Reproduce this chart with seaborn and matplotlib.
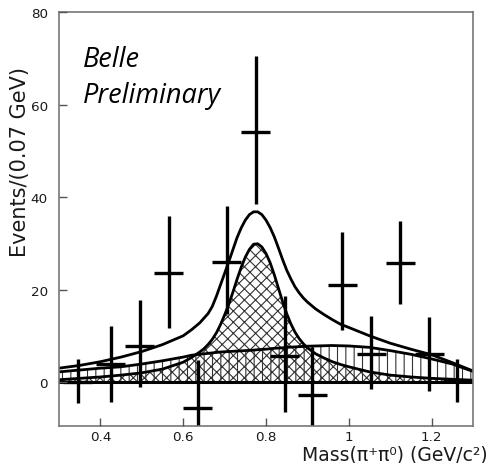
import matplotlib
matplotlib.use('Agg')
import matplotlib.pyplot as plt
import seaborn as sns
import pandas as pd

# measured points (bin width 0.07 GeV)
mass = [0.345, 0.425, 0.495, 0.565, 0.635, 0.705, 0.775, 0.845, 0.912, 0.984, 1.054, 1.124, 1.194, 1.262]
events = [0.0, 3.8, 7.8, 23.5, -5.7, 26.0, 54.0, 5.7, -2.7, 21.0, 6.0, 25.7, 6.0, 0.2]
err_lo = [4.6, 8.2, 8.9, 11.8, 10.0, 11.3, 15.5, 12.2, 10.0, 9.7, 7.5, 8.9, 8.0, 4.6]
err_hi = [5.0, 8.3, 10.0, 12.5, 10.5, 12.0, 16.5, 12.9, 10.3, 11.4, 8.2, 9.1, 8.0, 4.8]

# fit curves
fit_x = [0.30, 0.35, 0.40, 0.45, 0.50, 0.55,
         0.60, 0.62, 0.64, 0.65, 0.66, 0.67, 0.68, 0.69, 0.70, 0.71, 0.72, 0.73, 0.74,
         0.75, 0.76, 0.77, 0.78, 0.79, 0.80, 0.81, 0.82, 0.83, 0.84, 0.85, 0.86, 0.87,
         0.88, 0.89, 0.90, 0.92, 0.94, 0.96, 0.98, 1.00,
         1.05, 1.10, 1.15, 1.20, 1.25, 1.30]
total = [3.0, 3.6, 4.4, 5.4, 6.6, 8.1,
         10.0, 11.3, 12.8, 13.8, 14.8, 16.3, 18.5, 21.0, 23.5, 26.0, 28.6, 31.2, 33.3,
         35.0, 36.2, 36.8, 36.8, 36.2, 35.0, 33.4, 31.4, 29.0, 26.5, 24.2, 22.3, 20.6,
         19.3, 18.2, 17.3, 15.8, 14.6, 13.5, 12.5, 11.8,
         10.0, 8.4, 7.1, 5.9, 4.2, 2.4]
signal = [0.5, 0.8, 1.1, 1.5, 2.0, 2.8,
          4.3, 5.3, 6.5, 7.2, 8.1, 9.2, 10.6, 12.4, 14.5, 16.8, 19.4, 22.2, 24.8,
          27.0, 28.7, 29.8, 29.9, 29.2, 27.8, 25.8, 23.2, 20.3, 17.4, 14.8, 12.6, 10.8,
          9.4, 8.3, 7.4, 6.1, 5.2, 4.4, 3.8, 3.3,
          2.2, 1.5, 1.1, 0.8, 0.6, 0.4]
background = [2.2, 2.6, 3.0, 3.3, 3.9, 4.6,
              5.4, 5.8, 6.0, 6.1, 6.2, 6.3, 6.4, 6.5, 6.55, 6.6, 6.65, 6.7, 6.75,
              6.8, 6.85, 6.9, 7.0, 7.05, 7.1, 7.2, 7.3, 7.35, 7.4, 7.5, 7.55, 7.6,
              7.65, 7.7, 7.75, 7.8, 7.85, 7.9, 7.85, 7.8,
              7.5, 6.8, 6.0, 5.0, 3.9, 2.3]

x_ticks = [0.4, 0.6, 0.8, 1.0, 1.2]
x_labels = ['0.4', '0.6', '0.8', '1', '1.2']
y_ticks = [0, 20, 40, 60, 80]

sns.set_style('ticks')
plt.rcParams['font.family'] = ['DejaVu Sans']
plt.rcParams['hatch.linewidth'] = 0.8
plt.rcParams['axes.axisbelow'] = False

df = pd.DataFrame({'x': fit_x, 'total': total, 'signal': signal, 'bkg': background})

fig = plt.figure(figsize=(4.89, 4.64), dpi=100)
ax = fig.add_axes([59 / 489, 1 - 427 / 464, 414 / 489, 414 / 464])

# hatched components
ax.fill_between(df['x'], 0, df['bkg'], facecolor='none', edgecolor='#333333',
                hatch='||', linewidth=0)
ax.fill_between(df['x'], 0, df['signal'], facecolor='none', edgecolor='#333333',
                hatch='xxx', linewidth=0)
ax.axhline(0, color='black', lw=2.2)

for col in ['bkg', 'signal', 'total']:
    sns.lineplot(data=df, x='x', y=col, ax=ax, color='black', lw=2.0, sort=False)

ax.errorbar(mass, events, yerr=[err_lo, err_hi], xerr=0.035, fmt='none',
            ecolor='black', elinewidth=2.4, capsize=0)

ax.set_xlim(0.3, 1.3)
ax.set_ylim(-9.5, 80)
ax.set_xticks(x_ticks)
ax.set_xticklabels(x_labels)
ax.set_yticks(y_ticks)
ax.xaxis.set_tick_params(which='major', direction='in', length=5.5, width=1.0,
                         color='#555555', bottom=True, top=False, pad=3)
ax.yaxis.set_tick_params(which='major', direction='in', length=5.5, width=1.0,
                         color='#555555', left=True, right=False, pad=8)
ax.tick_params(labelsize=9.7, labelcolor='#1a1a1a')
ax.set_xlabel('')
ax.set_ylabel('')
for s in ax.spines.values():
    s.set_color('#777777')
    s.set_linewidth(1.2)

ax.text(0.358, 68.3, 'Belle', fontsize=19.5, style='italic', family='Open Sans',
        va='baseline', color='black')
ax.text(0.358, 60.5, 'Preliminary', fontsize=19.5, style='italic', family='Open Sans',
        va='baseline', color='black')

fig.text(20 / 489, 1 - 162 / 464, 'Events/(0.07 GeV)', rotation=90, ha='center',
         va='center', fontsize=15, color='#1a1a1a')
fig.text(488 / 489, 1 - 461 / 464, 'Mass(π⁺π⁰) (GeV/c²)', ha='right', va='baseline',
         fontsize=13.5, color='#1a1a1a')

fig.savefig('out.png', dpi=100)
